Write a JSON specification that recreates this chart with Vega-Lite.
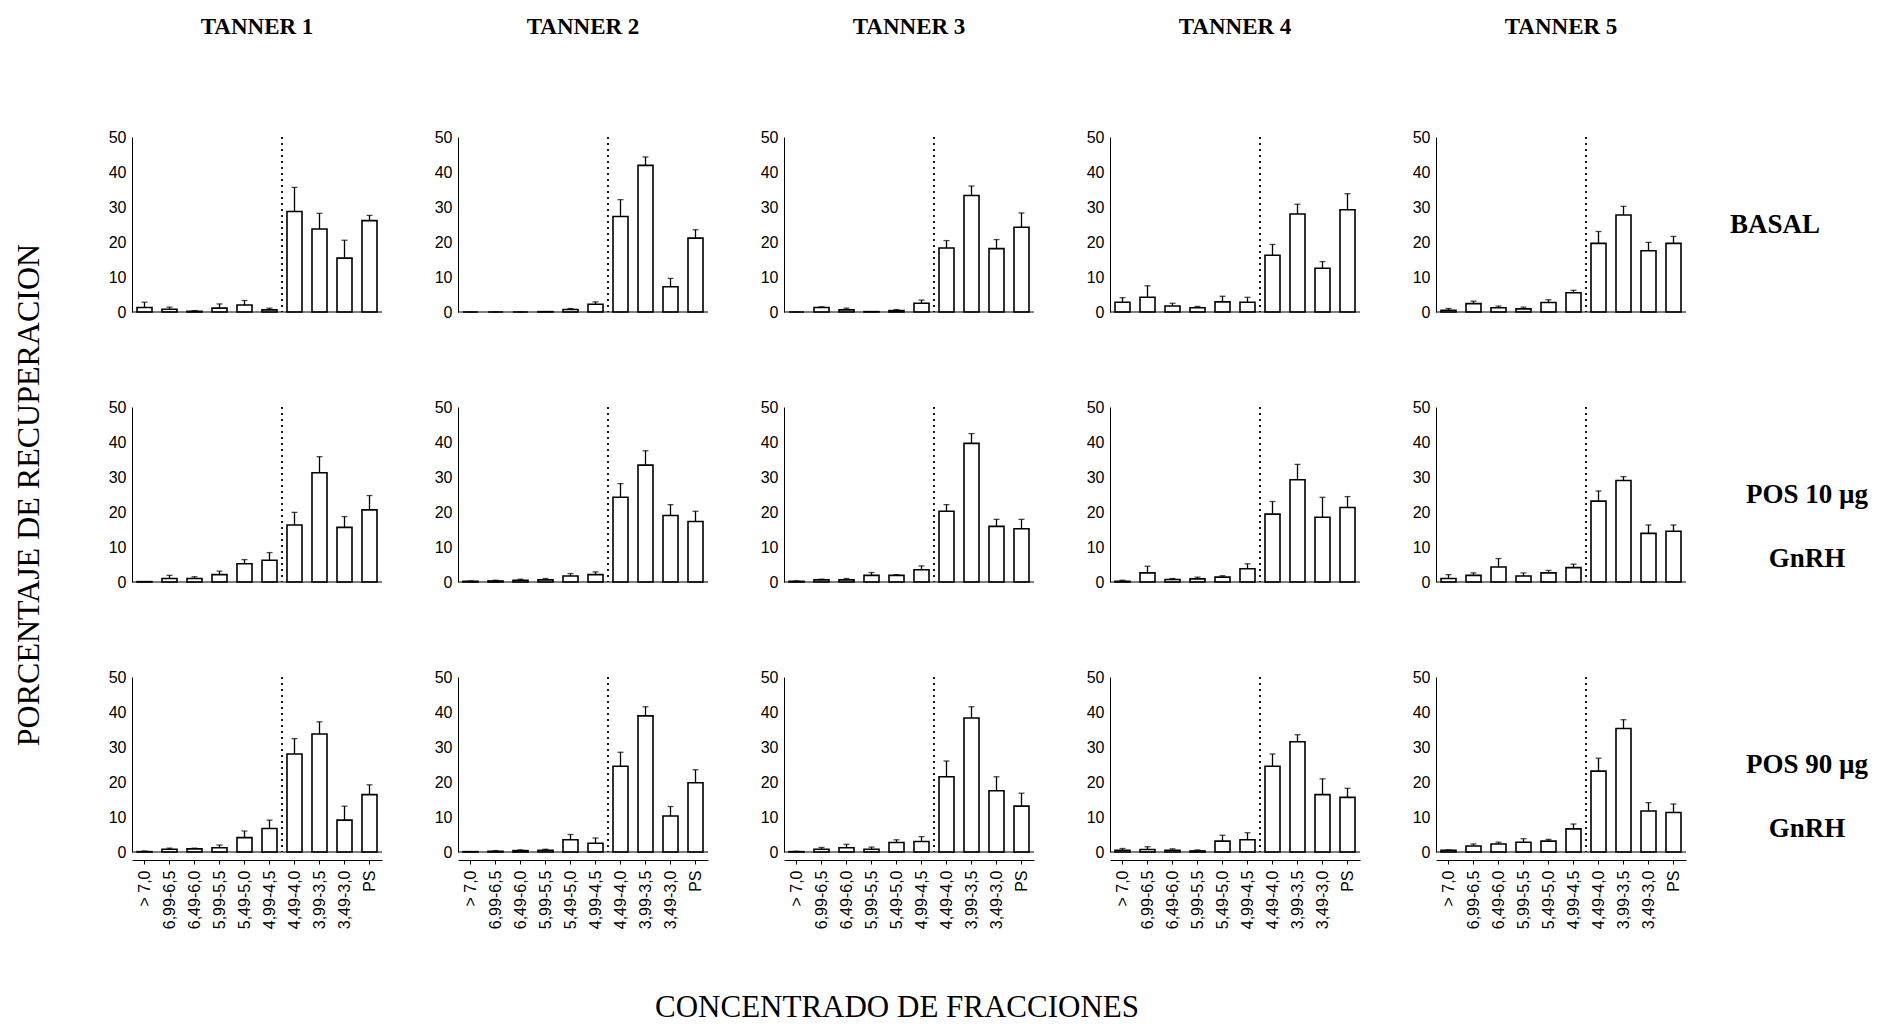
{
  "$schema": "https://vega.github.io/schema/vega-lite/v6.json",
  "background": "white",
  "padding": {"left": 12, "top": 16, "right": 5, "bottom": 2},
  "datasets": {
    "d": [
      {"t":"TANNER 1","c":"BASAL","f":"> 7,0","v":1.3,"hi":2.8},
      {"t":"TANNER 1","c":"BASAL","f":"6,99-6,5","v":0.8,"hi":1.4},
      {"t":"TANNER 1","c":"BASAL","f":"6,49-6,0","v":0.2,"hi":0.4},
      {"t":"TANNER 1","c":"BASAL","f":"5,99-5,5","v":1.1,"hi":2.3},
      {"t":"TANNER 1","c":"BASAL","f":"5,49-5,0","v":2.0,"hi":3.3},
      {"t":"TANNER 1","c":"BASAL","f":"4,99-4,5","v":0.6,"hi":1.1},
      {"t":"TANNER 1","c":"BASAL","f":"4,49-4,0","v":28.7,"hi":35.6},
      {"t":"TANNER 1","c":"BASAL","f":"3,99-3,5","v":23.7,"hi":28.2},
      {"t":"TANNER 1","c":"BASAL","f":"3,49-3,0","v":15.4,"hi":20.5},
      {"t":"TANNER 1","c":"BASAL","f":"PS","v":26.1,"hi":27.6},

      {"t":"TANNER 2","c":"BASAL","f":"> 7,0","v":0.0,"hi":0.0},
      {"t":"TANNER 2","c":"BASAL","f":"6,99-6,5","v":0.0,"hi":0.0},
      {"t":"TANNER 2","c":"BASAL","f":"6,49-6,0","v":0.0,"hi":0.0},
      {"t":"TANNER 2","c":"BASAL","f":"5,99-5,5","v":0.1,"hi":0.1},
      {"t":"TANNER 2","c":"BASAL","f":"5,49-5,0","v":0.7,"hi":1.0},
      {"t":"TANNER 2","c":"BASAL","f":"4,99-4,5","v":2.2,"hi":2.9},
      {"t":"TANNER 2","c":"BASAL","f":"4,49-4,0","v":27.3,"hi":32.1},
      {"t":"TANNER 2","c":"BASAL","f":"3,99-3,5","v":41.9,"hi":44.3},
      {"t":"TANNER 2","c":"BASAL","f":"3,49-3,0","v":7.2,"hi":9.6},
      {"t":"TANNER 2","c":"BASAL","f":"PS","v":21.1,"hi":23.5},

      {"t":"TANNER 3","c":"BASAL","f":"> 7,0","v":0.0,"hi":0.0},
      {"t":"TANNER 3","c":"BASAL","f":"6,99-6,5","v":1.3,"hi":1.5},
      {"t":"TANNER 3","c":"BASAL","f":"6,49-6,0","v":0.6,"hi":1.1},
      {"t":"TANNER 3","c":"BASAL","f":"5,99-5,5","v":0.1,"hi":0.1},
      {"t":"TANNER 3","c":"BASAL","f":"5,49-5,0","v":0.4,"hi":0.7},
      {"t":"TANNER 3","c":"BASAL","f":"4,99-4,5","v":2.5,"hi":3.4},
      {"t":"TANNER 3","c":"BASAL","f":"4,49-4,0","v":18.3,"hi":20.4},
      {"t":"TANNER 3","c":"BASAL","f":"3,99-3,5","v":33.3,"hi":36.0},
      {"t":"TANNER 3","c":"BASAL","f":"3,49-3,0","v":18.1,"hi":20.7},
      {"t":"TANNER 3","c":"BASAL","f":"PS","v":24.2,"hi":28.3},

      {"t":"TANNER 4","c":"BASAL","f":"> 7,0","v":2.8,"hi":4.1},
      {"t":"TANNER 4","c":"BASAL","f":"6,99-6,5","v":4.2,"hi":7.5},
      {"t":"TANNER 4","c":"BASAL","f":"6,49-6,0","v":1.7,"hi":2.5},
      {"t":"TANNER 4","c":"BASAL","f":"5,99-5,5","v":1.2,"hi":1.6},
      {"t":"TANNER 4","c":"BASAL","f":"5,49-5,0","v":2.9,"hi":4.5},
      {"t":"TANNER 4","c":"BASAL","f":"4,99-4,5","v":2.8,"hi":4.2},
      {"t":"TANNER 4","c":"BASAL","f":"4,49-4,0","v":16.2,"hi":19.3},
      {"t":"TANNER 4","c":"BASAL","f":"3,99-3,5","v":28.0,"hi":30.8},
      {"t":"TANNER 4","c":"BASAL","f":"3,49-3,0","v":12.5,"hi":14.4},
      {"t":"TANNER 4","c":"BASAL","f":"PS","v":29.2,"hi":33.8},

      {"t":"TANNER 5","c":"BASAL","f":"> 7,0","v":0.5,"hi":1.0},
      {"t":"TANNER 5","c":"BASAL","f":"6,99-6,5","v":2.4,"hi":3.1},
      {"t":"TANNER 5","c":"BASAL","f":"6,49-6,0","v":1.2,"hi":1.7},
      {"t":"TANNER 5","c":"BASAL","f":"5,99-5,5","v":0.9,"hi":1.4},
      {"t":"TANNER 5","c":"BASAL","f":"5,49-5,0","v":2.7,"hi":3.5},
      {"t":"TANNER 5","c":"BASAL","f":"4,99-4,5","v":5.5,"hi":6.2},
      {"t":"TANNER 5","c":"BASAL","f":"4,49-4,0","v":19.6,"hi":23.0},
      {"t":"TANNER 5","c":"BASAL","f":"3,99-3,5","v":27.7,"hi":30.2},
      {"t":"TANNER 5","c":"BASAL","f":"3,49-3,0","v":17.5,"hi":19.9},
      {"t":"TANNER 5","c":"BASAL","f":"PS","v":19.6,"hi":21.6},

      {"t":"TANNER 1","c":"POS 10 µg|GnRH","f":"> 7,0","v":0.1,"hi":0.1},
      {"t":"TANNER 1","c":"POS 10 µg|GnRH","f":"6,99-6,5","v":1.0,"hi":1.9},
      {"t":"TANNER 1","c":"POS 10 µg|GnRH","f":"6,49-6,0","v":1.0,"hi":1.5},
      {"t":"TANNER 1","c":"POS 10 µg|GnRH","f":"5,99-5,5","v":2.1,"hi":3.1},
      {"t":"TANNER 1","c":"POS 10 µg|GnRH","f":"5,49-5,0","v":5.2,"hi":6.4},
      {"t":"TANNER 1","c":"POS 10 µg|GnRH","f":"4,99-4,5","v":6.2,"hi":8.4},
      {"t":"TANNER 1","c":"POS 10 µg|GnRH","f":"4,49-4,0","v":16.3,"hi":19.9},
      {"t":"TANNER 1","c":"POS 10 µg|GnRH","f":"3,99-3,5","v":31.2,"hi":35.8},
      {"t":"TANNER 1","c":"POS 10 µg|GnRH","f":"3,49-3,0","v":15.6,"hi":18.7},
      {"t":"TANNER 1","c":"POS 10 µg|GnRH","f":"PS","v":20.6,"hi":24.7},

      {"t":"TANNER 2","c":"POS 10 µg|GnRH","f":"> 7,0","v":0.2,"hi":0.3},
      {"t":"TANNER 2","c":"POS 10 µg|GnRH","f":"6,99-6,5","v":0.3,"hi":0.5},
      {"t":"TANNER 2","c":"POS 10 µg|GnRH","f":"6,49-6,0","v":0.5,"hi":0.8},
      {"t":"TANNER 2","c":"POS 10 µg|GnRH","f":"5,99-5,5","v":0.6,"hi":1.0},
      {"t":"TANNER 2","c":"POS 10 µg|GnRH","f":"5,49-5,0","v":1.7,"hi":2.4},
      {"t":"TANNER 2","c":"POS 10 µg|GnRH","f":"4,99-4,5","v":2.1,"hi":2.9},
      {"t":"TANNER 2","c":"POS 10 µg|GnRH","f":"4,49-4,0","v":24.2,"hi":28.1},
      {"t":"TANNER 2","c":"POS 10 µg|GnRH","f":"3,99-3,5","v":33.4,"hi":37.5},
      {"t":"TANNER 2","c":"POS 10 µg|GnRH","f":"3,49-3,0","v":19.0,"hi":22.1},
      {"t":"TANNER 2","c":"POS 10 µg|GnRH","f":"PS","v":17.3,"hi":20.2},

      {"t":"TANNER 3","c":"POS 10 µg|GnRH","f":"> 7,0","v":0.2,"hi":0.3},
      {"t":"TANNER 3","c":"POS 10 µg|GnRH","f":"6,99-6,5","v":0.6,"hi":0.8},
      {"t":"TANNER 3","c":"POS 10 µg|GnRH","f":"6,49-6,0","v":0.6,"hi":1.0},
      {"t":"TANNER 3","c":"POS 10 µg|GnRH","f":"5,99-5,5","v":1.9,"hi":2.7},
      {"t":"TANNER 3","c":"POS 10 µg|GnRH","f":"5,49-5,0","v":1.9,"hi":2.1},
      {"t":"TANNER 3","c":"POS 10 µg|GnRH","f":"4,99-4,5","v":3.5,"hi":4.6},
      {"t":"TANNER 3","c":"POS 10 µg|GnRH","f":"4,49-4,0","v":20.2,"hi":22.1},
      {"t":"TANNER 3","c":"POS 10 µg|GnRH","f":"3,99-3,5","v":39.6,"hi":42.4},
      {"t":"TANNER 3","c":"POS 10 µg|GnRH","f":"3,49-3,0","v":15.9,"hi":17.9},
      {"t":"TANNER 3","c":"POS 10 µg|GnRH","f":"PS","v":15.2,"hi":17.9},

      {"t":"TANNER 4","c":"POS 10 µg|GnRH","f":"> 7,0","v":0.2,"hi":0.5},
      {"t":"TANNER 4","c":"POS 10 µg|GnRH","f":"6,99-6,5","v":2.6,"hi":4.5},
      {"t":"TANNER 4","c":"POS 10 µg|GnRH","f":"6,49-6,0","v":0.7,"hi":1.0},
      {"t":"TANNER 4","c":"POS 10 µg|GnRH","f":"5,99-5,5","v":0.9,"hi":1.4},
      {"t":"TANNER 4","c":"POS 10 µg|GnRH","f":"5,49-5,0","v":1.4,"hi":1.8},
      {"t":"TANNER 4","c":"POS 10 µg|GnRH","f":"4,99-4,5","v":3.8,"hi":5.2},
      {"t":"TANNER 4","c":"POS 10 µg|GnRH","f":"4,49-4,0","v":19.4,"hi":23.0},
      {"t":"TANNER 4","c":"POS 10 µg|GnRH","f":"3,99-3,5","v":29.2,"hi":33.6},
      {"t":"TANNER 4","c":"POS 10 µg|GnRH","f":"3,49-3,0","v":18.5,"hi":24.2},
      {"t":"TANNER 4","c":"POS 10 µg|GnRH","f":"PS","v":21.3,"hi":24.4},

      {"t":"TANNER 5","c":"POS 10 µg|GnRH","f":"> 7,0","v":1.0,"hi":2.1},
      {"t":"TANNER 5","c":"POS 10 µg|GnRH","f":"6,99-6,5","v":1.9,"hi":2.6},
      {"t":"TANNER 5","c":"POS 10 µg|GnRH","f":"6,49-6,0","v":4.3,"hi":6.7},
      {"t":"TANNER 5","c":"POS 10 µg|GnRH","f":"5,99-5,5","v":1.7,"hi":2.6},
      {"t":"TANNER 5","c":"POS 10 µg|GnRH","f":"5,49-5,0","v":2.6,"hi":3.3},
      {"t":"TANNER 5","c":"POS 10 µg|GnRH","f":"4,99-4,5","v":4.1,"hi":5.1},
      {"t":"TANNER 5","c":"POS 10 µg|GnRH","f":"4,49-4,0","v":23.1,"hi":26.0},
      {"t":"TANNER 5","c":"POS 10 µg|GnRH","f":"3,99-3,5","v":29.0,"hi":30.1},
      {"t":"TANNER 5","c":"POS 10 µg|GnRH","f":"3,49-3,0","v":13.9,"hi":16.3},
      {"t":"TANNER 5","c":"POS 10 µg|GnRH","f":"PS","v":14.5,"hi":16.3},

      {"t":"TANNER 1","c":"POS 90 µg|GnRH","f":"> 7,0","v":0.1,"hi":0.3},
      {"t":"TANNER 1","c":"POS 90 µg|GnRH","f":"6,99-6,5","v":0.8,"hi":1.1},
      {"t":"TANNER 1","c":"POS 90 µg|GnRH","f":"6,49-6,0","v":0.9,"hi":1.1},
      {"t":"TANNER 1","c":"POS 90 µg|GnRH","f":"5,99-5,5","v":1.2,"hi":2.0},
      {"t":"TANNER 1","c":"POS 90 µg|GnRH","f":"5,49-5,0","v":4.1,"hi":6.0},
      {"t":"TANNER 1","c":"POS 90 µg|GnRH","f":"4,99-4,5","v":6.7,"hi":9.1},
      {"t":"TANNER 1","c":"POS 90 µg|GnRH","f":"4,49-4,0","v":28.0,"hi":32.4},
      {"t":"TANNER 1","c":"POS 90 µg|GnRH","f":"3,99-3,5","v":33.7,"hi":37.2},
      {"t":"TANNER 1","c":"POS 90 µg|GnRH","f":"3,49-3,0","v":9.1,"hi":13.1},
      {"t":"TANNER 1","c":"POS 90 µg|GnRH","f":"PS","v":16.4,"hi":19.2},

      {"t":"TANNER 2","c":"POS 90 µg|GnRH","f":"> 7,0","v":0.1,"hi":0.1},
      {"t":"TANNER 2","c":"POS 90 µg|GnRH","f":"6,99-6,5","v":0.2,"hi":0.4},
      {"t":"TANNER 2","c":"POS 90 µg|GnRH","f":"6,49-6,0","v":0.4,"hi":0.6},
      {"t":"TANNER 2","c":"POS 90 µg|GnRH","f":"5,99-5,5","v":0.5,"hi":0.8},
      {"t":"TANNER 2","c":"POS 90 µg|GnRH","f":"5,49-5,0","v":3.5,"hi":5.0},
      {"t":"TANNER 2","c":"POS 90 µg|GnRH","f":"4,99-4,5","v":2.5,"hi":4.0},
      {"t":"TANNER 2","c":"POS 90 µg|GnRH","f":"4,49-4,0","v":24.5,"hi":28.5},
      {"t":"TANNER 2","c":"POS 90 µg|GnRH","f":"3,99-3,5","v":38.9,"hi":41.5},
      {"t":"TANNER 2","c":"POS 90 µg|GnRH","f":"3,49-3,0","v":10.3,"hi":13.0},
      {"t":"TANNER 2","c":"POS 90 µg|GnRH","f":"PS","v":19.8,"hi":23.5},

      {"t":"TANNER 3","c":"POS 90 µg|GnRH","f":"> 7,0","v":0.1,"hi":0.2},
      {"t":"TANNER 3","c":"POS 90 µg|GnRH","f":"6,99-6,5","v":0.8,"hi":1.3},
      {"t":"TANNER 3","c":"POS 90 µg|GnRH","f":"6,49-6,0","v":1.2,"hi":2.2},
      {"t":"TANNER 3","c":"POS 90 µg|GnRH","f":"5,99-5,5","v":0.8,"hi":1.4},
      {"t":"TANNER 3","c":"POS 90 µg|GnRH","f":"5,49-5,0","v":2.7,"hi":3.5},
      {"t":"TANNER 3","c":"POS 90 µg|GnRH","f":"4,99-4,5","v":3.0,"hi":4.4},
      {"t":"TANNER 3","c":"POS 90 µg|GnRH","f":"4,49-4,0","v":21.5,"hi":26.0},
      {"t":"TANNER 3","c":"POS 90 µg|GnRH","f":"3,99-3,5","v":38.3,"hi":41.5},
      {"t":"TANNER 3","c":"POS 90 µg|GnRH","f":"3,49-3,0","v":17.5,"hi":21.5},
      {"t":"TANNER 3","c":"POS 90 µg|GnRH","f":"PS","v":13.1,"hi":16.8},

      {"t":"TANNER 4","c":"POS 90 µg|GnRH","f":"> 7,0","v":0.5,"hi":1.0},
      {"t":"TANNER 4","c":"POS 90 µg|GnRH","f":"6,99-6,5","v":0.7,"hi":1.5},
      {"t":"TANNER 4","c":"POS 90 µg|GnRH","f":"6,49-6,0","v":0.5,"hi":0.9},
      {"t":"TANNER 4","c":"POS 90 µg|GnRH","f":"5,99-5,5","v":0.3,"hi":0.6},
      {"t":"TANNER 4","c":"POS 90 µg|GnRH","f":"5,49-5,0","v":3.1,"hi":4.8},
      {"t":"TANNER 4","c":"POS 90 µg|GnRH","f":"4,99-4,5","v":3.5,"hi":5.5},
      {"t":"TANNER 4","c":"POS 90 µg|GnRH","f":"4,49-4,0","v":24.5,"hi":28.0},
      {"t":"TANNER 4","c":"POS 90 µg|GnRH","f":"3,99-3,5","v":31.5,"hi":33.5},
      {"t":"TANNER 4","c":"POS 90 µg|GnRH","f":"3,49-3,0","v":16.4,"hi":20.9},
      {"t":"TANNER 4","c":"POS 90 µg|GnRH","f":"PS","v":15.6,"hi":18.2},

      {"t":"TANNER 5","c":"POS 90 µg|GnRH","f":"> 7,0","v":0.5,"hi":0.6},
      {"t":"TANNER 5","c":"POS 90 µg|GnRH","f":"6,99-6,5","v":1.7,"hi":2.3},
      {"t":"TANNER 5","c":"POS 90 µg|GnRH","f":"6,49-6,0","v":2.3,"hi":2.8},
      {"t":"TANNER 5","c":"POS 90 µg|GnRH","f":"5,99-5,5","v":2.8,"hi":3.8},
      {"t":"TANNER 5","c":"POS 90 µg|GnRH","f":"5,49-5,0","v":3.1,"hi":3.6},
      {"t":"TANNER 5","c":"POS 90 µg|GnRH","f":"4,99-4,5","v":6.6,"hi":8.0},
      {"t":"TANNER 5","c":"POS 90 µg|GnRH","f":"4,49-4,0","v":23.1,"hi":26.8},
      {"t":"TANNER 5","c":"POS 90 µg|GnRH","f":"3,99-3,5","v":35.3,"hi":37.8},
      {"t":"TANNER 5","c":"POS 90 µg|GnRH","f":"3,49-3,0","v":11.7,"hi":14.1},
      {"t":"TANNER 5","c":"POS 90 µg|GnRH","f":"PS","v":11.3,"hi":13.7}
    ]
  },
  "data": {"name": "d"},
  "facet": {
    "column": {
      "field": "t", "type": "nominal", "sort": "ascending",
      "header": {
        "title": "CONCENTRADO DE FRACCIONES",
        "titleOrient": "bottom",
        "titleFont": "Liberation Serif", "titleFontSize": 31, "titleFontWeight": "normal", "titleColor": "black",
        "titlePadding": 54,
        "labelOrient": "top",
        "labelFont": "Liberation Serif", "labelFontSize": 23, "labelFontWeight": "bold", "labelColor": "black",
        "labelPadding": 90
      }
    },
    "row": {
      "field": "c", "type": "nominal",
      "sort": ["BASAL", "POS 10 µg|GnRH", "POS 90 µg|GnRH"],
      "header": {
        "title": "PORCENTAJE DE RECUPERACION",
        "titleOrient": "left",
        "titleAngle": -90,
        "titleFont": "Liberation Serif", "titleFontSize": 32, "titleFontWeight": "normal", "titleColor": "black",
        "titlePadding": 20,
        "labelOrient": "right",
        "labelAngle": 0,
        "labelAlign": "center",
        "labelExpr": "split(datum.label, '|')",
        "labelLineHeight": 64,
        "labelFont": "Liberation Serif", "labelFontSize": 27, "labelFontWeight": "bold", "labelColor": "black",
        "labelPadding": -2
      }
    }
  },
  "spacing": {"column": 51, "row": 79},
  "resolve": {"axis": {"y": "independent"}},
  "spec": {
    "width": 250,
    "height": 175,
    "encoding": {
      "x": {
        "field": "f", "type": "nominal",
        "sort": ["> 7,0", "6,99-6,5", "6,49-6,0", "5,99-5,5", "5,49-5,0", "4,99-4,5", "4,49-4,0", "3,99-3,5", "3,49-3,0", "PS"],
        "scale": {"paddingInner": 0.4, "paddingOuter": 0.2},
        "axis": {
          "title": null, "labelAngle": -90, "labelFont": "Liberation Sans", "labelFontSize": 16,
          "labelColor": "black", "domainColor": "black", "tickColor": "black", "tickSize": 4, "labelPadding": 6
        }
      },
      "y": {
        "field": "v", "type": "quantitative",
        "scale": {"domain": [0, 50], "nice": false},
        "axis": {
          "title": null, "values": [0, 10, 20, 30, 40, 50], "tickCount": 6, "grid": false, "ticks": false,
          "labelOverlap": false,
          "labelFont": "Liberation Sans", "labelFontSize": 16, "labelColor": "black",
          "domainColor": "black", "labelPadding": 6
        }
      }
    },
    "layer": [
      {
        "mark": {"type": "bar", "fill": "white", "stroke": "black", "strokeWidth": 1.6}
      },
      {
        "mark": {"type": "rule", "stroke": "black", "strokeWidth": 1.3},
        "encoding": {
          "y2": {"field": "hi"}
        }
      },
      {
        "mark": {"type": "tick", "color": "black", "size": 6, "thickness": 1.3, "orient": "horizontal"},
        "encoding": {
          "y": {"field": "hi", "type": "quantitative"}
        }
      },
      {
        "transform": [{"filter": "datum.f == 'PS'"}],
        "mark": {"type": "rule", "stroke": "black", "strokeWidth": 1.8, "strokeDash": [2, 4], "xOffset": -5},
        "encoding": {
          "x": {"datum": "4,49-4,0", "bandPosition": 0},
          "y": {"datum": 50},
          "y2": {"datum": 0}
        }
      },
      {
        "transform": [{"filter": "datum.f == 'PS'"}],
        "mark": {"type": "rule", "stroke": "black", "strokeWidth": 1},
        "encoding": {
          "x": {"value": 0},
          "x2": {"value": 250},
          "y": {"datum": 0}
        }
      }
    ]
  },
  "config": {
    "view": {"stroke": null},
    "axis": {"grid": false},
    "axisY": {
      "labelOverlap": false, "tickCount": 6, "ticks": false, "labelFontSize": 16,
      "labelFont": "Liberation Sans", "labelColor": "black", "domainColor": "black", "labelPadding": 6
    }
  }
}
